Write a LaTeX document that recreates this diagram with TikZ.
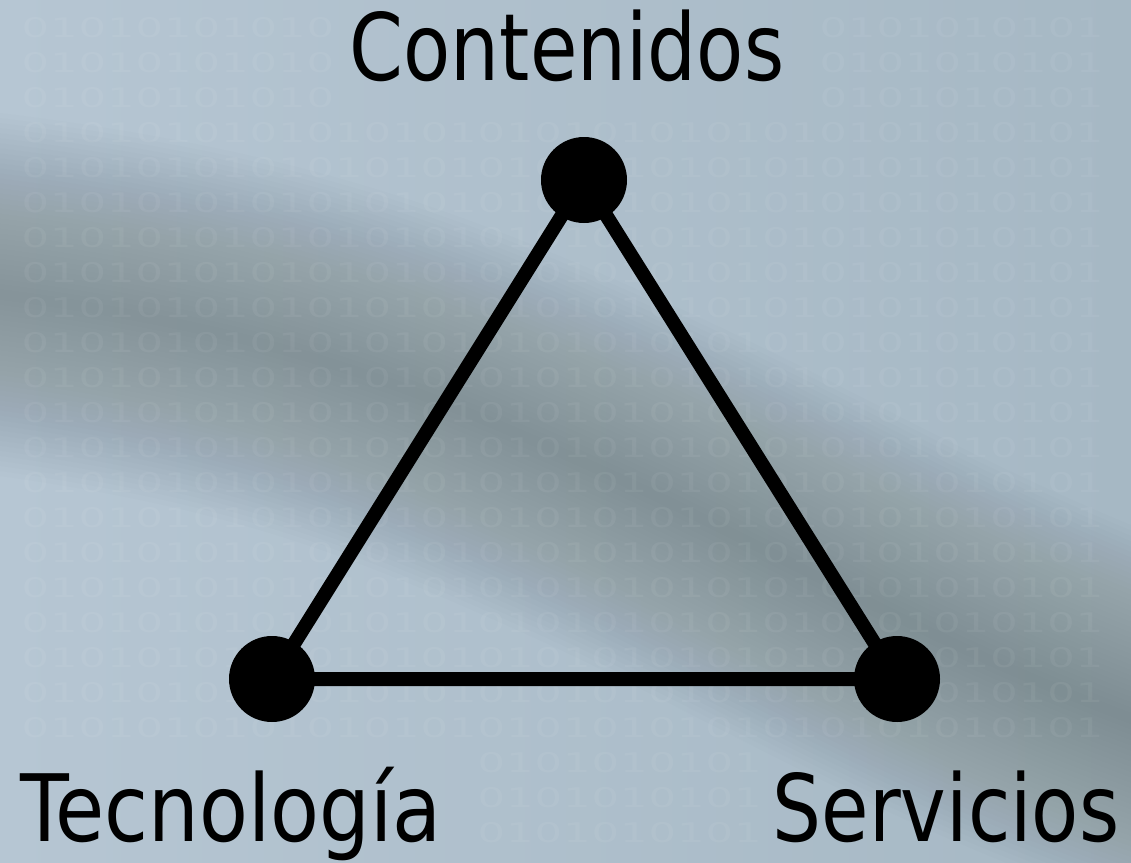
\documentclass[tikz,border=0pt]{standalone}
\usepackage{fontspec}
\newfontfamily\labfont[FakeStretch=0.83]{DejaVu Sans}
\newfontfamily\labfontw[FakeStretch=0.86]{DejaVu Sans}
\newfontfamily\binfont[FakeStretch=1.6]{DejaVu Sans}
\definecolor{bgL}{RGB}{182,198,211}
\definecolor{bgR}{RGB}{166,184,196}
\definecolor{band}{RGB}{107,120,119}
\newcommand{\bz}{\makebox[28.5pt]{0}}
\newcommand{\bo}{\makebox[28.5pt]{1}}
\newcommand{\cells}[2]{\foreach \i in {#1,...,#2}{\ifodd\i\bo\else\bz\fi}}
\tikzset{
  dot/.style={circle, fill=black, inner sep=0pt, minimum size=86pt},
  edge/.style={line width=14pt, black, line join=round},
  lab/.style={anchor=base, inner sep=0pt, font={\labfont\fontsize{93}{100}\selectfont}},
  bin/.style={anchor=base west, inner sep=0pt, text=white, text opacity=0.055,
    font={\binfont\fontsize{27}{30}\selectfont}},
}
\begin{document}
\begin{tikzpicture}[x=1pt,y=-1pt]
\useasboundingbox (0,0) rectangle (1131,862);
\begin{scope}
  \clip (0,0) rectangle (1131,862);
  \shade[left color=bgL, right color=bgR] (0,0) rectangle (1131,862);
  \foreach \w in {360,350,...,10}
    \draw[band, opacity=0.021, line width=\w pt, line cap=round]
      (-80,285) .. controls (250,320) and (400,380) .. (600,470)
      .. controls (800,560) and (950,660) .. (1220,750);
\end{scope}
% faint binary texture
\foreach \r in {0,1,2} {
  \node[bin] (ra\r) at (21,{37+35*\r}) {\cells{0}{10}};
  \node[bin] (rb\r) at ({21+28.5*28},{37+35*\r}) {\cells{28}{37}};
}
\foreach \r in {3,...,20}
  \node[bin] (row\r) at (21,{37+35*\r}) {\cells{0}{37}};
\foreach \r in {21,22,23}
  \node[bin] (rc\r) at ({21+28.5*16},{37+35*\r}) {\cells{16}{25}};
% diagram
\node[dot] (c) at (584,180) {};
\node[dot] (t) at (272,679) {};
\node[dot] (s) at (897,679) {};
\draw[edge] (c.center) -- (t.center) -- (s.center) -- cycle;
\node[lab] (lc) at (567,80) {Contenidos};
\node[lab, font={\labfontw\fontsize{93}{100}\selectfont}] (lt) at (231,841) {Tecnología};
\node[lab] (ls) at (946,841) {Servicios};
\end{tikzpicture}
\end{document}
